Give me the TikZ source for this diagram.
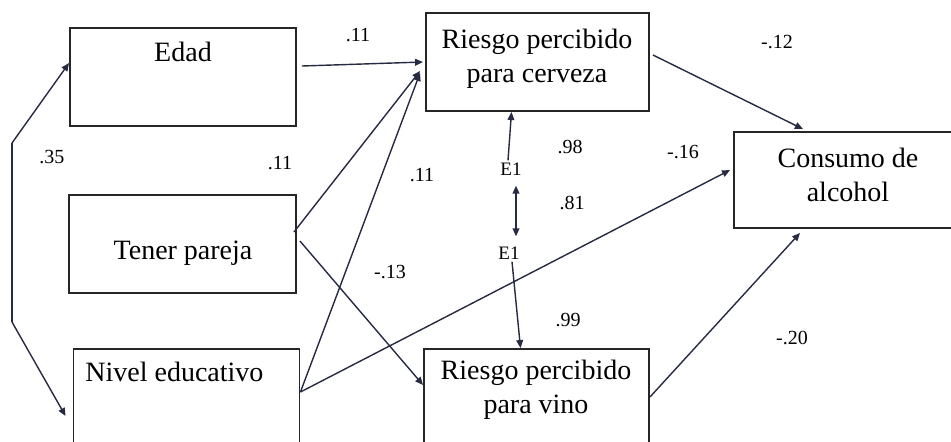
\documentclass[tikz,border=0pt]{standalone}
\usepackage{fontspec}
\setmainfont{Liberation Serif}
\usepackage{tikz}
\usetikzlibrary{arrows.meta}
\definecolor{lineInk}{RGB}{38,42,66}
\newcommand{\boxWidth}[0]{113pt}
\newcommand{\boxHeight}[0]{49pt}
\newcommand{\coefFont}[0]{\fontsize{10}{12}\selectfont}

\begin{document}
\begin{tikzpicture}[x=0.5pt, y=-0.5pt, >={Triangle[length=4pt,width=3.4pt]}]
  \tikzset{varBox/.style={draw=black!85, line width=0.95pt, minimum width=\boxWidth, minimum height=\boxHeight, inner sep=0pt},
           varText/.style={align=center, font=\fontsize{14}{17}\selectfont},
           coef/.style={font=\coefFont, inner sep=0pt},
           errText/.style={font=\fontsize{9.5}{11}\selectfont, inner sep=1pt},
           path/.style={draw=lineInk, line width=0.7pt}}
  \clip (0,0) rectangle (951,441);
  % variables
  \node[varBox] (edad) at (183,77) {};
  \node[varText] (edadText) at (183,52) {Edad};
  \node[varBox, minimum width=113.5pt] (tener) at (182.5,244) {};
  \node[varText] (tenerText) at (183,253) {Tener pareja};
  \node[varBox] (nivel) at (186.5,398) {};
  \node[varText, anchor=west, inner sep=0pt] (nivelText) at (85,372) {Nivel educativo};
  \node[varBox, minimum width=111.5pt] (cerveza) at (537.5,62) {};
  \node[varText] (cervezaText) at (537,59) {Riesgo percibido\\para cerveza};
  \node[varBox, minimum width=112.5pt] (vino) at (536.5,398) {};
  \node[varText] (vinoText) at (536,390) {Riesgo percibido\\para vino};
  \node[varBox, minimum width=114pt, minimum height=48pt] (consumo) at (848,180) {};
  \node[varText] (consumoText) at (848,175) {Consumo de\\alcohol};
  % errors
  \node[errText] (errA) at (511,169) {E1};
  \node[errText] (errB) at (509,253) {E1};
  % correlation edad - nivel
  \coordinate (bendTop) at (12,143);
  \coordinate (bendBot) at (12,322);
  \draw[path] (bendBot) -- (bendTop);
  \draw[path, ->] (bendTop) -- ([yshift=7pt]edad.west);
  \draw[path, ->] (bendBot) -- ([xshift=-3.5pt, yshift=-9pt]nivel.west);
  % paths
  \draw[path, ->] ([xshift=2.5pt, yshift=5.5pt]edad.east) -- ([xshift=-1pt]cerveza.west);
  \draw[path, ->] ([xshift=-1.5pt, yshift=6pt]tener.east) -- ([xshift=-2.5pt, yshift=-4.5pt]cerveza.west);
  \draw[path, ->] ([yshift=3pt]nivel.east) -- ([xshift=-2.5pt, yshift=-5.5pt]cerveza.west);
  \draw[path, ->] ([yshift=3pt]nivel.east) -- ([xshift=-1.5pt, yshift=5pt]consumo.west);
  \draw[path, ->] ([xshift=1.5pt, yshift=1.5pt]tener.east) -- ([yshift=6.5pt]vino.west);
  \draw[path, ->] ([xshift=1.5pt, yshift=3.5pt]cerveza.east) -- ([xshift=-22.5pt, yshift=1pt]consumo.north);
  \draw[path, ->] ([yshift=0.5pt]vino.east) -- ([xshift=-24pt, yshift=-2pt]consumo.south);
  \draw[path, ->] ([xshift=-1.5pt]errA.north) -- ([xshift=-13pt]cerveza.south);
  \draw[path, <->] ([xshift=2.5pt, yshift=-4pt]errA.south) -- ([xshift=3.5pt, yshift=4pt]errB.north);
  \draw[path, ->] ([xshift=1.5pt]errB.south) -- ([xshift=-8pt]vino.north);
  % coefficients
  \node[coef] (cEdadCer) at (358,35) {.11};
  \node[coef] (cEdadNiv) at (52,157) {.35};
  \node[coef] (cTenCer) at (280,163) {.11};
  \node[coef] (cNivCer) at (422,175) {.11};
  \node[coef] (cTenVin) at (390,272) {-.13};
  \node[coef] (cErrCer) at (570,147) {.98};
  \node[coef] (cNivCon) at (683,152) {-.16};
  \node[coef] (cErrCor) at (572,203) {.81};
  \node[coef] (cCerCon) at (777,42) {-.12};
  \node[coef] (cErrVin) at (568,320) {.99};
  \node[coef] (cVinCon) at (792,338) {-.20};
\end{tikzpicture}
\end{document}
